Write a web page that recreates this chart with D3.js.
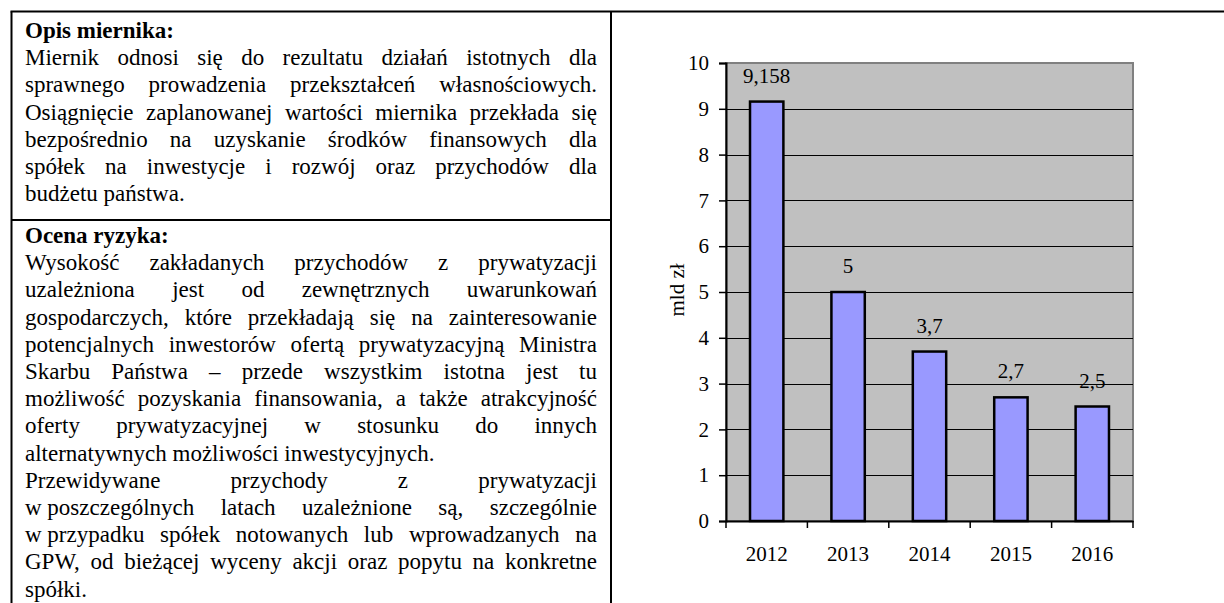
<!DOCTYPE html>
<html><head><meta charset="utf-8">
<script src="https://cdn.jsdelivr.net/npm/d3@7"></script>
<style>
body{margin:0;background:#fff}
svg{display:block}
svg text{font-family:"Liberation Serif","Tinos","Times New Roman",serif;}
</style>
</head><body>
<script>
// ---- data ----
const years = ["2012", "2013", "2014", "2015", "2016"];
const values = [9.158, 5, 3.7, 2.7, 2.5];
const valueLabels = ["9,158", "5", "3,7", "2,7", "2,5"];
const yTicks = [0, 1, 2, 3, 4, 5, 6, 7, 8, 9, 10];
const yAxisTitle = "mld zł";

const descHeading = "Opis miernika:";
const descLines = [
  "Miernik odnosi się do rezultatu działań istotnych dla",
  "sprawnego prowadzenia przekształceń własnościowych.",
  "Osiągnięcie zaplanowanej wartości miernika przekłada się",
  "bezpośrednio na uzyskanie środków finansowych dla",
  "spółek na inwestycje i rozwój oraz przychodów dla",
  "budżetu państwa."
];
const descJustify = [true, true, true, true, true, false];

const riskHeading = "Ocena ryzyka:";
const riskLines = [
  "Wysokość zakładanych przychodów z prywatyzacji",
  "uzależniona jest od zewnętrznych uwarunkowań",
  "gospodarczych, które przekładają się na zainteresowanie",
  "potencjalnych inwestorów ofertą prywatyzacyjną Ministra",
  "Skarbu Państwa – przede wszystkim istotna jest tu",
  "możliwość pozyskania finansowania, a także atrakcyjność",
  "oferty prywatyzacyjnej w stosunku do innych",
  "alternatywnych możliwości inwestycyjnych.",
  "Przewidywane przychody z prywatyzacji",
  "w\u00A0poszczególnych latach uzależnione są, szczególnie",
  "w\u00A0przypadku spółek notowanych lub wprowadzanych na",
  "GPW, od bieżącej wyceny akcji oraz popytu na konkretne",
  "spółki."
];
const riskJustify = [true, true, true, true, true, true, true, false, true, true, true, true, false];

// ---- layout ----
const W = 1224, H = 603;
const svg = d3.select("body").append("svg").attr("width", W).attr("height", H);

// table frame
const frame = svg.append("g").attr("stroke", "#000").attr("stroke-width", 2);
const tblLeft = 11.5, tblTop = 11.5, tblMid = 611, divY = 220;
frame.append("line").attr("x1", tblLeft - 1).attr("x2", W).attr("y1", tblTop).attr("y2", tblTop);
frame.append("line").attr("x1", tblLeft).attr("x2", tblLeft).attr("y1", tblTop).attr("y2", H);
frame.append("line").attr("x1", tblMid).attr("x2", tblMid).attr("y1", tblTop).attr("y2", H);
frame.append("line").attr("x1", tblLeft).attr("x2", tblMid).attr("y1", divY).attr("y2", divY);

// text blocks
const textLeft = 25, textRight = 597, lineH = 27.2;
const bodySize = 23;

function writeBlock(heading, lines, justify, y0) {
  const g = svg.append("g").attr("font-size", bodySize).attr("fill", "#000");
  g.append("text").attr("x", textLeft).attr("y", y0).attr("font-weight", "bold").text(heading);
  lines.forEach((ln, i) => {
    const y = y0 + (i + 1) * lineH;
    const t = g.append("text").attr("y", y);
    if (!justify[i]) {
      t.attr("x", textLeft).text(ln);
      return;
    }
    const words = ln.split(" ");
    const spans = words.map(w => t.append("tspan").text(w));
    const widths = spans.map(s => s.node().getComputedTextLength());
    const total = widths.reduce((a, b) => a + b, 0);
    const gap = words.length > 1 ? (textRight - textLeft - total) / (words.length - 1) : 0;
    let cx = textLeft;
    spans.forEach((s, k) => { s.attr("x", cx); cx += widths[k] + gap; });
  });
}
writeBlock(descHeading, descLines, descJustify, 38);
writeBlock(riskHeading, riskLines, riskJustify, 243);

// ---- chart ----
const plot = { left: 726, right: 1133, top: 63, bottom: 521 };
const x = d3.scaleBand().domain(years).range([plot.left, plot.right]).padding(0);
const y = d3.scaleLinear().domain([0, 10]).range([plot.bottom, plot.top]);

const chart = svg.append("g");

chart.append("rect")
  .attr("x", plot.left).attr("y", plot.top)
  .attr("width", plot.right - plot.left).attr("height", plot.bottom - plot.top)
  .attr("fill", "#C0C0C0").attr("stroke", "#808080").attr("stroke-width", 2);

// gridlines
chart.append("g").selectAll("line").data(yTicks.filter(t => t > 0 && t < 10)).join("line")
  .attr("x1", plot.left).attr("x2", plot.right)
  .attr("y1", d => Math.round(y(d)) + 0.5).attr("y2", d => Math.round(y(d)) + 0.5)
  .attr("stroke", "#000").attr("stroke-width", 1);

// bars
const barW = x.bandwidth() * 0.41;
chart.append("g").selectAll("rect").data(values).join("rect")
  .attr("x", (d, i) => x(years[i]) + (x.bandwidth() - barW) / 2)
  .attr("y", d => y(d))
  .attr("width", barW)
  .attr("height", d => y(0) - y(d))
  .attr("fill", "#9999FF").attr("stroke", "#000").attr("stroke-width", 2.5);

// value labels
chart.append("g").selectAll("text").data(values).join("text")
  .attr("x", (d, i) => x(years[i]) + x.bandwidth() / 2)
  .attr("y", d => y(d) - 19)
  .attr("text-anchor", "middle").attr("font-size", 21).attr("fill", "#000")
  .text((d, i) => valueLabels[i]);

// y axis
const yAxis = chart.append("g").attr("transform", `translate(${plot.left},0)`)
  .call(d3.axisLeft(y).tickValues(yTicks).tickSize(7).tickPadding(10).tickFormat(d3.format("d")));
yAxis.attr("font-family", null);
yAxis.selectAll("text").attr("font-size", 21).attr("fill", "#000");
yAxis.selectAll("line").attr("stroke", "#000").attr("stroke-width", 1.5);
yAxis.select(".domain").attr("stroke", "#000").attr("stroke-width", 2);

// x axis (labels)
const xAxis = chart.append("g").attr("transform", `translate(0,${plot.bottom})`)
  .call(d3.axisBottom(x).tickSize(0).tickPadding(0));
xAxis.attr("font-family", null);
xAxis.selectAll("text").attr("font-size", 21).attr("fill", "#000")
  .attr("y", 40).attr("dy", null);
xAxis.select(".domain").attr("stroke", "#000").attr("stroke-width", 2);
// category boundary ticks
const bounds = d3.range(years.length + 1).map(i => x.range()[0] + i * x.step());
chart.append("g").selectAll("line").data(bounds).join("line")
  .attr("x1", d => d).attr("x2", d => d)
  .attr("y1", plot.bottom).attr("y2", plot.bottom + 7)
  .attr("stroke", "#000").attr("stroke-width", 1.5);

// y axis title
chart.append("text")
  .attr("transform", `translate(684,290) rotate(-90)`)
  .attr("text-anchor", "middle").attr("font-size", 21).attr("fill", "#000")
  .text(yAxisTitle);
</script>
</body></html>
